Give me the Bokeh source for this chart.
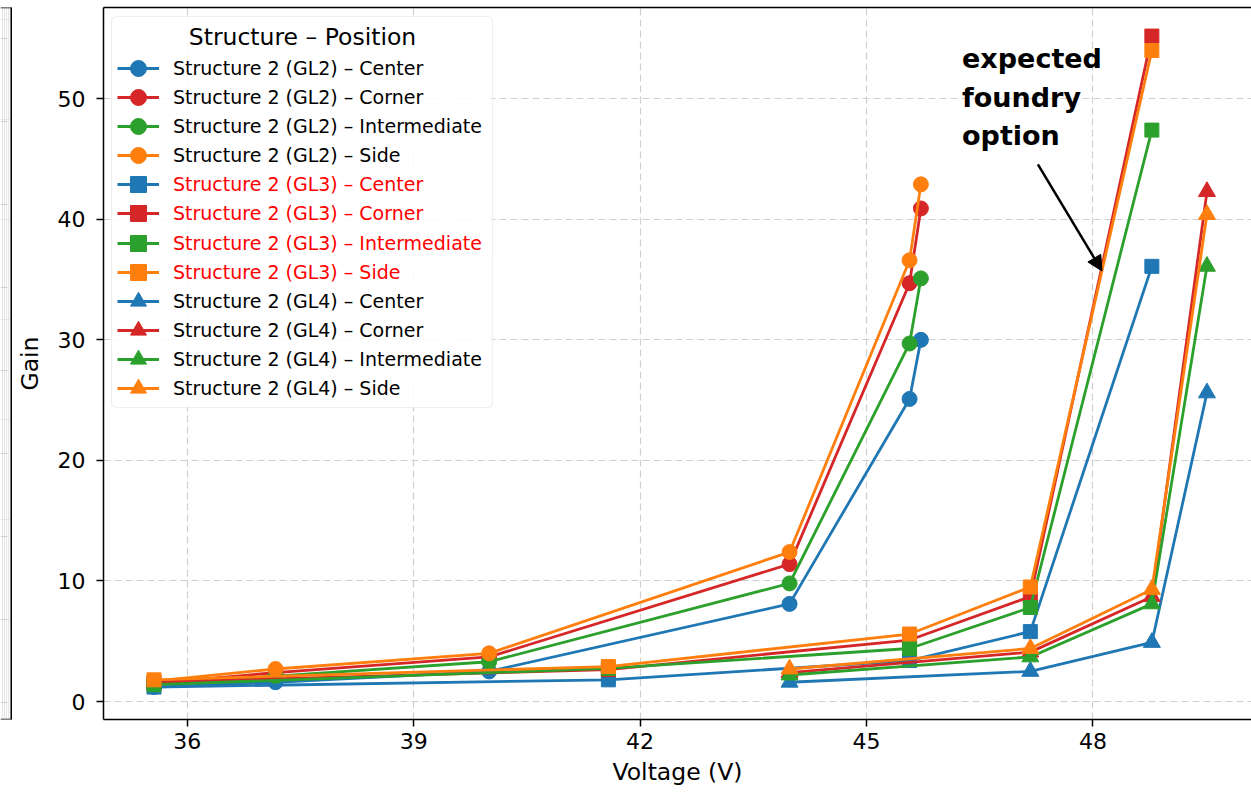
from bokeh.plotting import figure
from bokeh.models import (Range1d, Legend, LegendItem, Label, Arrow, NormalHead,
                          BoxAnnotation, SingleIntervalTicker, FixedTicker, LinearAxis,
                          Span, Grid)
from bokeh.layouts import row
from bokeh.embed import file_html
from bokeh.resources import INLINE

# ---------------- data ----------------
volt_gl2 = [35.56, 37.17, 40.0, 43.98, 45.57, 45.72]
gl2_center = [1.2, 1.6, 2.5, 8.1, 25.1, 30.0]
gl2_corner = [1.5, 2.4, 3.7, 11.4, 34.7, 40.9]
gl2_intermediate = [1.4, 2.1, 3.3, 9.8, 29.7, 35.1]
gl2_side = [1.7, 2.7, 4.0, 12.4, 36.6, 42.9]

volt_gl3 = [35.56, 41.58, 45.57, 47.17, 48.78]
gl3_center = [1.2, 1.8, 3.4, 5.8, 36.1]
gl3_corner = [1.6, 2.65, 5.1, 8.7, 55.2]
gl3_intermediate = [1.4, 2.75, 4.4, 7.8, 47.4]
gl3_side = [1.8, 2.9, 5.6, 9.5, 54.0]

volt_gl4 = [43.98, 47.17, 48.78, 49.51]
gl4_center = [1.6, 2.5, 4.9, 25.6]
gl4_corner = [2.4, 4.1, 8.7, 42.3]
gl4_intermediate = [2.2, 3.7, 8.1, 36.1]
gl4_side = [2.7, 4.4, 9.3, 40.4]

positions = ["Center", "Corner", "Intermediate", "Side"]
structures = ["GL2", "GL3", "GL4"]
x_ticks_interval = 3
y_ticks_interval = 10

COLORS = {"Center": "#1f77b4", "Corner": "#d62728", "Intermediate": "#2ca02c", "Side": "#ff7f0e"}
MARKERS = {"GL2": "circle", "GL3": "square", "GL4": "triangle"}
MSIZE = {"GL2": 15, "GL3": 14, "GL4": 17}

series = {
    "GL2": (volt_gl2, [gl2_center, gl2_corner, gl2_intermediate, gl2_side]),
    "GL3": (volt_gl3, [gl3_center, gl3_corner, gl3_intermediate, gl3_side]),
    "GL4": (volt_gl4, [gl4_center, gl4_corner, gl4_intermediate, gl4_side]),
}

FONT = "DejaVu Sans"

# ---------------- neighbouring panel edge (left) ----------------
left = figure(width=12, height=795, x_range=Range1d(0, 12), y_range=Range1d(0, 712),
              min_border_left=0, min_border_right=0, min_border_top=7, min_border_bottom=76,
              x_axis_location=None, y_axis_location=None, toolbar_location=None,
              output_backend="svg", outline_line_color=None)
left_grid_vals = [681.5, 598.5, 515.5, 432.5, 349.5, 266.5, 183.5, 100.5, 17.5]
left.add_layout(Grid(dimension=1, ticker=FixedTicker(ticks=left_grid_vals),
                     grid_line_color="#cfcfcf", grid_line_dash="7 4", grid_line_width=1.2))
left.add_layout(Span(location=10.75, dimension="height", line_color="black", line_width=1.5))
left.add_layout(Span(location=0, dimension="width", line_color="black", line_width=1.5))
left.add_layout(Span(location=712, dimension="width", line_color="black", line_width=1.5))

# ---------------- main panel ----------------
p = figure(width=1239, height=795, x_range=Range1d(34.891, 50.10), y_range=Range1d(-1.49, 57.57),
           min_border_left=91, min_border_right=0, min_border_top=7, min_border_bottom=76,
           toolbar_location=None, output_backend="svg", outline_line_color=None,
           background_fill_color="white")

p.xaxis.ticker = SingleIntervalTicker(interval=x_ticks_interval, num_minor_ticks=0)
p.yaxis.ticker = SingleIntervalTicker(interval=y_ticks_interval, num_minor_ticks=0)
for ax in (p.xaxis[0], p.yaxis[0]):
    ax.axis_line_width = 1.5
    ax.axis_line_color = "black"
    ax.major_tick_in = 0
    ax.major_tick_out = 7
    ax.major_tick_line_width = 1.5
    ax.minor_tick_line_color = None
    ax.major_label_text_font = FONT
    ax.major_label_text_font_size = "22px"
    ax.major_label_text_color = "black"
    ax.axis_label_text_font = FONT
    ax.axis_label_text_font_size = "23.5px"
    ax.axis_label_text_font_style = "normal"
    ax.axis_label_text_color = "black"
p.xaxis.axis_label = "Voltage (V)"
p.yaxis.axis_label = "Gain"
p.xaxis.major_label_standoff = 6
p.xaxis.axis_label_standoff = 6
p.yaxis.major_label_standoff = 11
p.yaxis.axis_label_standoff = 11

top_axis = LinearAxis(ticker=FixedTicker(ticks=[]), axis_line_width=1.5, axis_line_color="black",
                      major_tick_out=0, major_tick_in=0, minor_tick_out=0, minor_tick_in=0,
                      major_label_text_font_size="0px")
p.add_layout(top_axis, "above")

for g in (p.xgrid[0], p.ygrid[0]):
    g.grid_line_color = "#cfcfcf"
    g.grid_line_dash = "7 4"
    g.grid_line_width = 1.2

renderers = {}
for s in structures:
    xs, ys_list = series[s]
    for pos, ys in zip(positions, ys_list):
        c = COLORS[pos]
        lr = p.line(xs, ys, line_color=c, line_width=2.8)
        sr = p.scatter(xs, ys, marker=MARKERS[s], size=MSIZE[s], fill_color=c, line_color=c)
        renderers[(s, pos)] = [lr, sr]

# legend frame + title
p.add_layout(BoxAnnotation(left=8, right=389, top=703, bottom=312,
                           left_units="screen", right_units="screen",
                           top_units="screen", bottom_units="screen",
                           fill_color="white", fill_alpha=0.85, line_color="#cccccc",
                           line_width=1.2, border_radius=5))
p.add_layout(Label(x=199, y=683, x_units="screen", y_units="screen",
                   text="Structure \u2013 Position", text_align="center", text_baseline="middle",
                   text_font=FONT, text_font_size="23.5px", text_color="black"))

# one legend per entry so the rows can sit 29 px apart with full-size markers
leg_color = {"GL2": "black", "GL3": "red", "GL4": "black"}
row_pitch = 29.09
i = 0
for s in structures:
    for pos in positions:
        item = LegendItem(label=f"Structure 2 ({s}) \u2013 {pos}", renderers=renderers[(s, pos)])
        leg = Legend(items=[item], location=(14, 631 - row_pitch * i), orientation="vertical",
                     padding=0, margin=0, spacing=0, glyph_width=42, glyph_height=40,
                     label_height=40, label_standoff=14, label_text_font=FONT,
                     label_text_font_size="19px", label_text_color=leg_color[s],
                     border_line_color=None, background_fill_alpha=0)
        p.add_layout(leg)
        i += 1

# annotation
for txt, yv in (("expected", 53.36), ("foundry", 50.12), ("option", 46.97)):
    p.add_layout(Label(x=46.265, y=yv, text=txt, text_font=FONT, text_font_style="bold",
                       text_font_size="27px", text_baseline="middle", text_align="left",
                       text_color="black"))
p.add_layout(Arrow(end=NormalHead(size=15, fill_color="black", line_color="black", line_width=1),
                   x_start=47.27, y_start=44.56, x_end=48.12, y_end=35.71,
                   line_width=2.5, line_color="black"))

layout = row(left, p)
open("out.html", "w").write(file_html(layout, INLINE))
